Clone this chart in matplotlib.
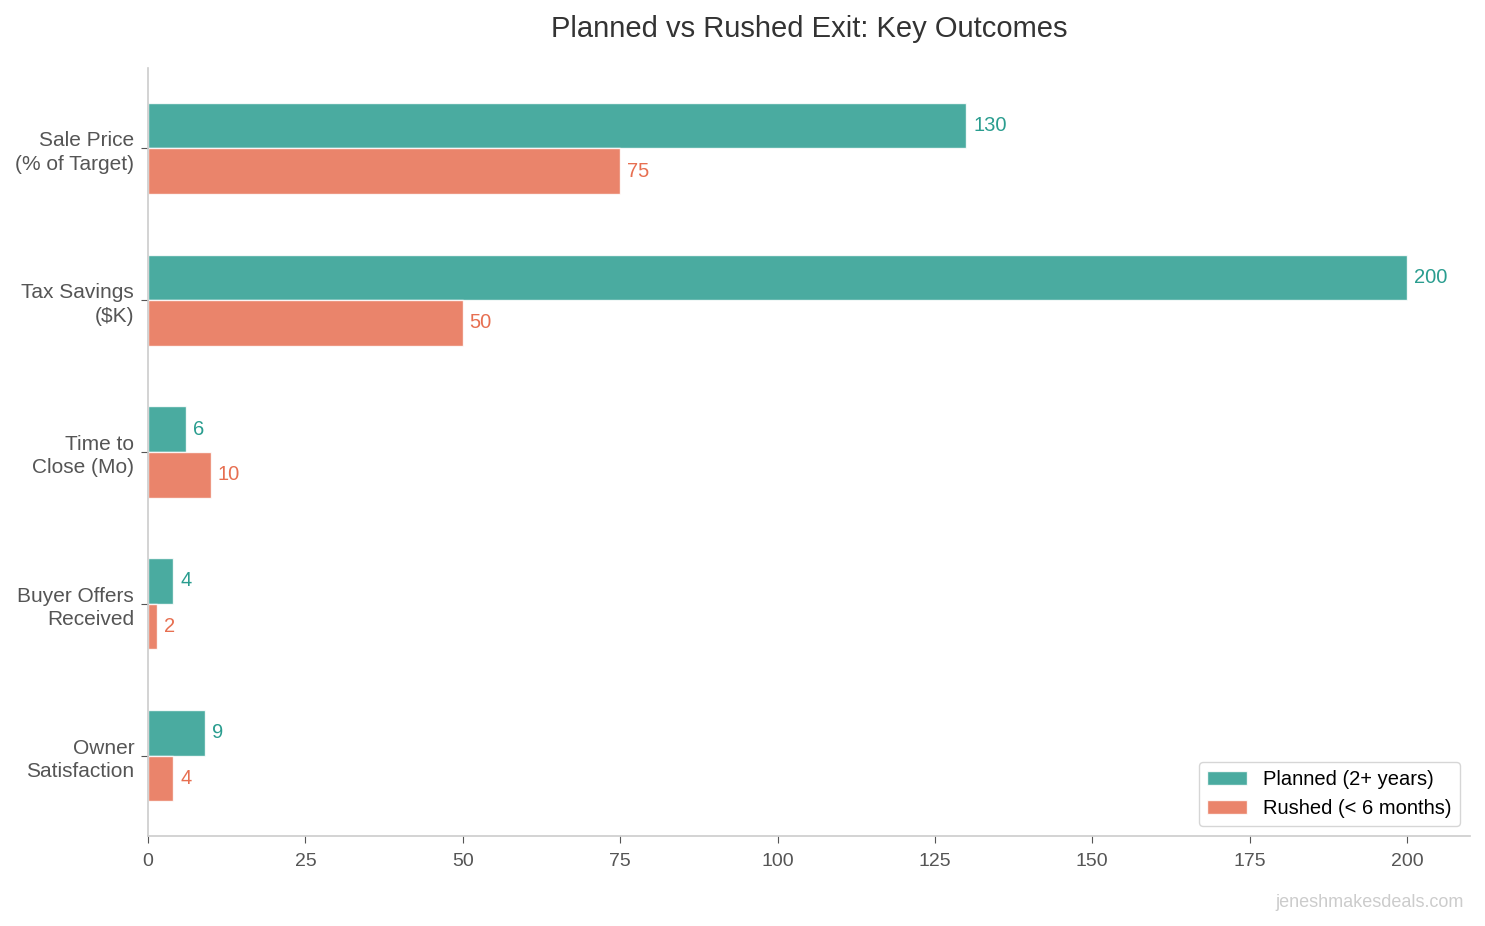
import numpy as np
import matplotlib.pyplot as plt

plt.rcParams['font.family'] = ['Liberation Sans', 'DejaVu Sans']

# Data
categories = ['Sale Price\n(% of Target)', 'Tax Savings\n($K)', 'Time to\nClose (Mo)',
              'Buyer Offers\nReceived', 'Owner\nSatisfaction']
planned = [130, 200, 6, 4, 9]
rushed = [75, 50, 10, 1.5, 4]
series_names = ['Planned (2+ years)', 'Rushed (< 6 months)']

teal = '#2A9D8F'
salmon = '#E76F51'

fig = plt.figure(figsize=(14.85, 9.26), dpi=100)
ax = fig.add_axes([0.0997, 0.0972, 0.8902, 0.8294])

y = np.arange(len(categories))
h = 0.3
b1 = ax.barh(y - h / 2, planned, height=h, color=teal, alpha=0.85,
             edgecolor='white', linewidth=1, label=series_names[0])
b2 = ax.barh(y + h / 2, rushed, height=h, color=salmon, alpha=0.85,
             edgecolor='white', linewidth=1, label=series_names[1])

for bars, vals, c in [(b1, planned, teal), (b2, rushed, salmon)]:
    for bar, v in zip(bars, vals):
        ax.annotate(f'{v:.0f}', (bar.get_width(), bar.get_y() + bar.get_height() / 2),
                    xytext=(5, 0), textcoords='offset points', va='center', ha='left',
                    fontsize=14.5, color=c)

ax.set_yticks(y)
ax.set_yticklabels(categories, fontsize=15, color='#555555', linespacing=1.3)
ax.invert_yaxis()
ax.set_xlim(0, 210)
ax.tick_params(axis='x', labelsize=14, colors='#555555', pad=7)
ax.tick_params(axis='both', color='#555555', length=5)
ax.tick_params(axis='y', pad=5)
for s in ['top', 'right']:
    ax.spines[s].set_visible(False)
for s in ['left', 'bottom']:
    ax.spines[s].set_color('#cccccc')
    ax.spines[s].set_linewidth(1.2)

ax.set_title('Planned vs Rushed Exit: Key Outcomes', fontsize=21, color='#333333', pad=22)
leg = ax.legend(loc='lower right', fontsize=14.5, frameon=True, fancybox=True)
leg.get_frame().set_edgecolor('#cccccc')

fig.text(0.986, 0.025, 'jeneshmakesdeals.com', ha='right', va='center',
         fontsize=13, color='#cccccc')

fig.savefig('out.png', dpi=100)
